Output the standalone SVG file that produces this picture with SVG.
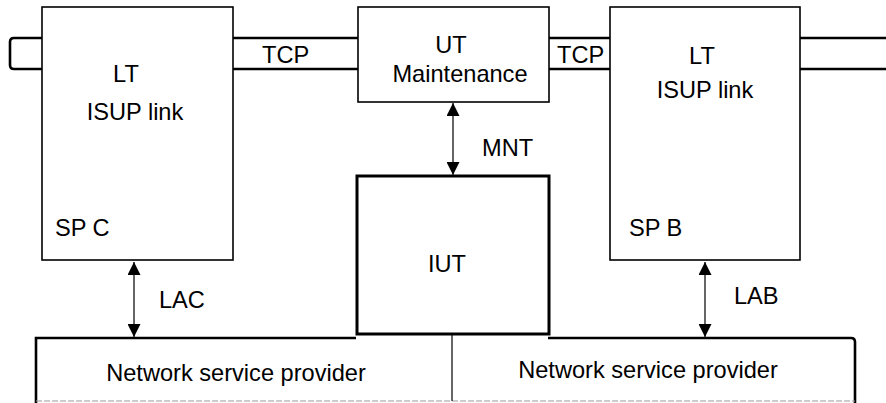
<svg xmlns="http://www.w3.org/2000/svg" width="886" height="403" viewBox="0 0 886 403">
<defs>
<style>
.box{fill:#fff;stroke:#000;stroke-width:1.6}
.thick{fill:none;stroke:#000;stroke-width:2.6}
.t{font-family:"Liberation Sans",Arial,sans-serif;font-size:23.6px;fill:#000}
.m{text-anchor:middle}
.conn{stroke:#333;stroke-width:1.5;fill:none}
</style>
<marker id="ah" viewBox="0 0 13 13" refX="13" refY="6.5" markerWidth="13" markerHeight="13" markerUnits="userSpaceOnUse" orient="auto-start-reverse">
<path d="M0,0 L13,6.5 L0,13 Z" fill="#000"/>
</marker>
</defs>
<g id="bus">
<path class="thick" d="M886,38 L14,38 Q10,38 10,42 L10,65 Q10,69 14,69 L886,69"/>
</g>
<g id="nsp">
<path class="thick" d="M36,403 L36,338 L356,338"/>
<path class="thick" d="M548,338 L851,338 Q855,338 855,342 L855,403"/>
<line x1="36" y1="401" x2="855" y2="401" stroke="#999" stroke-width="1" stroke-dasharray="6 2"/>
<line x1="452" y1="334" x2="452" y2="401" stroke="#333" stroke-width="1.5"/>
<text class="t m" x="236" y="381">Network service provider</text>
<text class="t m" x="648" y="378">Network service provider</text>
</g>
<g id="lt-c">
<rect class="box" x="42" y="7" width="191" height="253"/>
<text class="t m" x="126" y="82">LT</text>
<text class="t m" x="135" y="120">ISUP link</text>
<text class="t" x="55" y="236">SP C</text>
</g>
<g id="ut">
<rect class="box" x="358" y="7" width="191" height="95"/>
<text class="t m" x="451" y="53">UT</text>
<text class="t m" x="460" y="82">Maintenance</text>
</g>
<g id="lt-b">
<rect class="box" x="610" y="7" width="190" height="253"/>
<text class="t m" x="702" y="64">LT</text>
<text class="t m" x="705" y="98">ISUP link</text>
<text class="t" x="629" y="236">SP B</text>
</g>
<g id="iut">
<rect x="357" y="176" width="192" height="158" fill="#fff" stroke="#000" stroke-width="3"/>
<text class="t m" x="447" y="272">IUT</text>
</g>
<g id="connectors">
<line class="conn" x1="134" y1="262" x2="134" y2="337" marker-start="url(#ah)" marker-end="url(#ah)"/>
<line class="conn" x1="705" y1="262" x2="705" y2="337" marker-start="url(#ah)" marker-end="url(#ah)"/>
<line class="conn" x1="453" y1="103" x2="453" y2="175" marker-start="url(#ah)" marker-end="url(#ah)"/>
</g>
<g id="labels">
<text class="t" x="262" y="63">TCP</text>
<text class="t" x="557" y="63">TCP</text>
<text class="t" x="482" y="156">MNT</text>
<text class="t" x="159" y="308">LAC</text>
<text class="t" x="734" y="304">LAB</text>
</g>
</svg>
